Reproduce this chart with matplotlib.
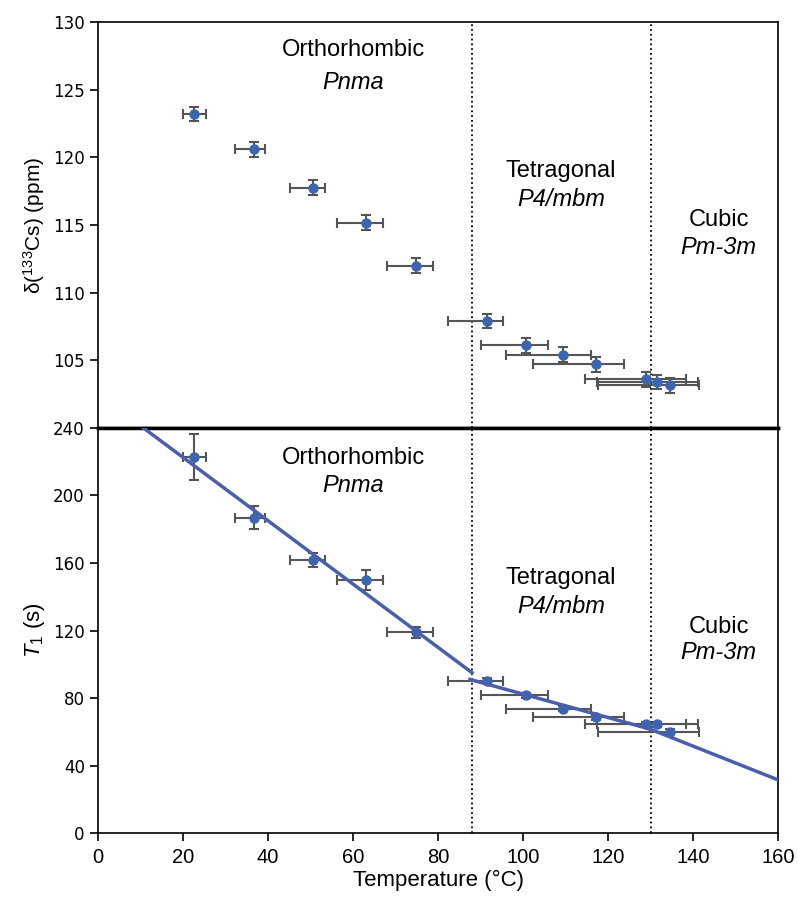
import matplotlib
matplotlib.use('Agg')
import matplotlib.pyplot as plt

plt.rcParams['font.family'] = ['Liberation Sans', 'DejaVu Sans']
plt.rcParams['mathtext.fontset'] = 'custom'
plt.rcParams['mathtext.rm'] = 'Liberation Sans'
plt.rcParams['mathtext.it'] = 'Liberation Sans:italic'

# 데이터
temp = [22.6, 36.6, 50.5, 63.0, 74.8, 91.5, 100.6, 109.3, 117.2, 128.9, 131.6, 134.6]
temp_err_lo = [2.7, 4.4, 5.4, 6.8, 6.7, 9.2, 10.5, 13.4, 14.8, 14.4, 14.2, 17.0]
temp_err_hi = [2.8, 2.7, 2.9, 4.0, 4.0, 3.8, 5.2, 6.6, 6.6, 9.5, 9.6, 6.7]

shift = [123.2, 120.6, 117.75, 115.15, 112.0, 107.9, 106.1, 105.4, 104.7, 103.6, 103.4, 103.15]
shift_err = [0.55] * 12

t1 = [223.0, 186.8, 161.8, 149.9, 118.9, 90.1, 81.6, 73.7, 68.6, 64.4, 64.4, 60.0]
t1_err = [13.6, 6.7, 4.2, 5.9, 3.2, 1.5, 1.5, 1.5, 1.5, 1.5, 1.5, 1.5]

# 선형 피팅 구간 (시작/끝)
fit_temp = [[10.7, 88.0], [87.5, 130.0], [130.0, 160.0]]
fit_t1 = [[240.0, 95.0], [91.0, 61.5], [61.5, 31.5]]

transitions = [88.0, 130.0]

phase_x = [60.0, 108.9, 146.0]
phase_name = ['Orthorhombic', 'Tetragonal', 'Cubic']
phase_group = ['Pnma', 'P4/mbm', 'Pm-3m']
top_label_y = [(127.9, 125.5), (119.0, 116.9), (115.4, 113.3)]
bot_label_y = [(222.2, 206.0), (151.1, 134.0), (122.1, 106.7)]

dot_color = '#3c65b1'
bar_color = '#555555'
line_color = '#4a5eab'

fig = plt.figure(figsize=(7.98, 8.97), dpi=100)
ax1 = fig.add_axes([0.1228, 0.5229, 0.8522, 0.4526])
ax2 = fig.add_axes([0.1228, 0.0713, 0.8522, 0.4516])

# 위쪽: 화학적 이동
ax1.errorbar(temp, shift, xerr=[temp_err_lo, temp_err_hi], yerr=shift_err,
             fmt='o', color=dot_color, ms=6.5, ecolor=bar_color, elinewidth=1.5,
             capsize=3.5, capthick=1.5, zorder=3)
ax1.set_xlim(0, 160)
ax1.set_ylim(100, 130)
ax1.set_yticks([105, 110, 115, 120, 125, 130])
ax1.set_xticks([])
ax1.set_ylabel(r'δ($^{133}$Cs) (ppm)', fontsize=15)

# 아래쪽: T1
ax2.errorbar(temp, t1, xerr=[temp_err_lo, temp_err_hi], yerr=t1_err,
             fmt='o', color=dot_color, ms=6.5, ecolor=bar_color, elinewidth=1.5,
             capsize=3.5, capthick=1.5, zorder=3)
for fx, fy in zip(fit_temp, fit_t1):
    ax2.plot(fx, fy, color=line_color, lw=2.5, zorder=4)
ax2.set_xlim(0, 160)
ax2.set_ylim(0, 240)
ax2.set_yticks(range(0, 241, 40))
ax2.set_xticks(range(0, 161, 20))
ax2.set_ylabel(r'$\it{T}_{\rm 1}$ (s)', fontsize=16)
ax2.set_xlabel('Temperature (°C)', fontsize=16, labelpad=2)

for ax, ly in [(ax1, top_label_y), (ax2, bot_label_y)]:
    for t in transitions:
        ax.axvline(t, color='black', ls=':', lw=1.3, zorder=1)
    for x, name, grp, (y1, y2) in zip(phase_x, phase_name, phase_group, ly):
        ax.text(x, y1, name, ha='center', va='center', fontsize=17)
        ax.text(x, y2, grp, ha='center', va='center', fontsize=17, style='italic')
    ax.tick_params(direction='out', length=6, width=1.2)
    for sp in ax.spines.values():
        sp.set_linewidth(1.2)
    for lab in ax.get_yticklabels():
        lab.set_family('DejaVu Sans')
        lab.set_fontsize(12)

ax2.tick_params(axis='x', pad=5)
for lab in ax2.get_xticklabels():
    lab.set_fontsize(14.5)

ax1.spines['bottom'].set_linewidth(2.5)
ax2.spines['top'].set_linewidth(2.5)

fig.savefig('out.png', dpi=100)
